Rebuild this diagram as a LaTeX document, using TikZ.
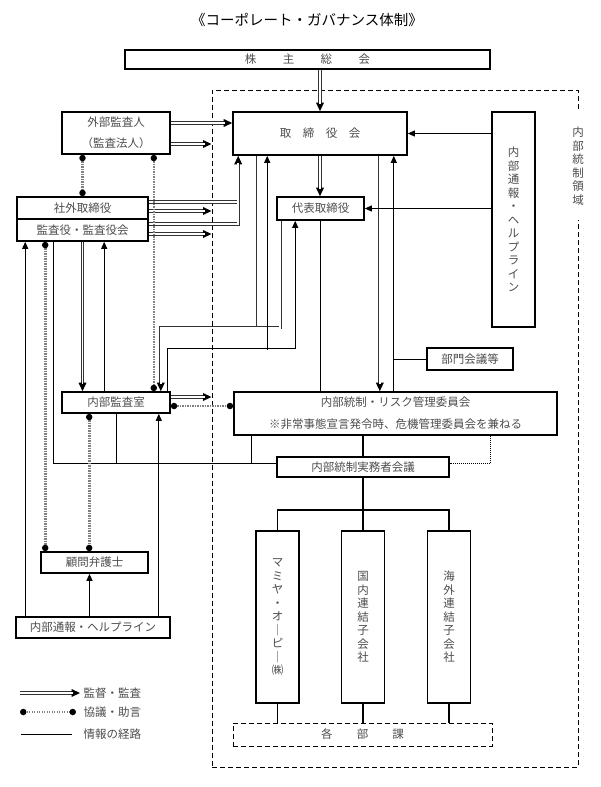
\documentclass[tikz,border=0pt]{standalone}
\usepackage{fontspec}
\setmainfont{Noto Sans CJK JP}
\usepackage{tikz}
\usetikzlibrary{arrows.meta,positioning,calc}

\begin{document}
\begin{tikzpicture}[
    x=1pt, y=-1pt,
    font=\fontsize{11.5}{13.5}\selectfont,
    box/.style={rectangle, draw, line width=1.6pt, inner sep=0pt, text=black!70, align=center},
    vbox/.style={box, text width=12pt, minimum width=43pt},
    region/.style={rectangle, draw, dash pattern=on 5pt off 3pt, line width=1pt, inner sep=0pt},
    kantokuline/.style={line width=0.8pt, draw=black!80, double=white, double distance=1.5pt},
    kantoku/.style={draw=white, line width=1.5pt, shorten >=7pt,
        preaction={draw=black!80, line width=3.1pt, shorten >=0pt, -{Triangle[length=8.5pt,width=8pt,line width=0pt,color=black]}}},
    joho/.style={line width=0.9pt},
    johoarrow/.style={joho, -{Triangle[length=7pt,width=6pt]}},
    soshiki/.style={line width=1.6pt},
    kyogi/.style={draw=black!50, line width=2.6pt, dash pattern=on 1.3pt off 1.2pt,
        {Circle[length=6.5pt,line width=0pt,color=black]}-{Circle[length=6.5pt,line width=0pt,color=black]}},
    kyogiline/.style={line width=1pt, dash pattern=on 1pt off 1pt}
  ]
    \useasboundingbox (0,0) rectangle (600,787);

    \node[font=\fontsize{14.5}{16}\selectfont] (title) at (307,20) {《コーポレート・ガバナンス体制》};

    \node[region, minimum width=366pt, minimum height=677pt] (ryoiki) at (395,428.5) {};
    \node[fill=white, inner sep=0pt, minimum width=14pt, minimum height=108pt, text width=12pt, align=center, text=black!70] (ryoikilabel) at (578,166) {内\\部\\統\\制\\領\\域};

    \node[box, minimum width=365pt, minimum height=19pt] (kabu) at (307.5,59.5) {株\hspace{2.3em}主\hspace{2.3em}総\hspace{2.3em}会};
    \node[box, minimum width=174pt, minimum height=43pt] (tori) at (320,133.5) {取\hspace{1em}締\hspace{1em}役\hspace{1em}会};
    \node[box, minimum width=87pt, minimum height=23pt] (daihyo) at (320.5,208.5) {代表取締役};
    \node[vbox, minimum height=215pt] (helpr) at (513.5,219.5) {内\\部\\通\\報\\・\\ヘ\\ル\\プ\\ラ\\イ\\ン};
    \node[box, minimum width=108pt, minimum height=42pt, font=\fontsize{11.5}{21}\selectfont] (gaibu) at (116,133) {外部監査人\\（監査法人）};
    \node[box, minimum width=131pt, minimum height=22pt] (shagai) at (82.5,208) {社外取締役};
    \node[box, minimum width=131pt, minimum height=22pt] (kansa) at (82.5,230) {監査役・監査役会};
    \node[box, minimum width=108pt, minimum height=21pt] (naibu) at (116,402.5) {内部監査室};
    \node[box, minimum width=86pt, minimum height=22pt] (bumon) at (470,359) {部門会議等};
    \node[box, minimum width=323pt, minimum height=43pt, font=\fontsize{11.5}{22}\selectfont] (iinkai) at (395.5,413.5) {内部統制・リスク管理委員会\\※非常事態宣言発令時、危機管理委員会を兼ねる};
    \node[box, minimum width=172pt, minimum height=20pt] (jitsumu) at (363,467) {内部統制実務者会議};
    \node[vbox, minimum height=172pt] (mamiya) at (277.5,617) {マ\\ミ\\ヤ\\・\\オ\\｜\\ピ\\｜\\㈱};
    \node[vbox, minimum height=172pt] (kokunai) at (363,617) {国\\内\\連\\結\\子\\会\\社};
    \node[vbox, minimum height=172pt] (kaigai) at (449,617) {海\\外\\連\\結\\子\\会\\社};
    \node[box, dash pattern=on 5pt off 3pt, line width=1pt, minimum width=259pt, minimum height=23pt] (kakubu) at (362.5,734.5) {各\hspace{2.1em}部\hspace{2.1em}課};
    \node[box, minimum width=107pt, minimum height=21pt] (bengo) at (94.5,562.5) {顧問弁護士};
    \node[box, minimum width=154pt, minimum height=21pt] (helpl) at (93,627.5) {内部通報・ヘルプライン};

    \draw[kantoku] (kabu.south -| tori.north) -- (tori.north);
    \draw[kantoku] ([yshift=10pt]gaibu.east) -- ([yshift=10pt]gaibu.east -| tori.west);
    \draw[kantoku] ([yshift=-11pt]gaibu.east) -- ([yshift=-11pt]gaibu.east -| ryoiki.west);
    \draw[kantokuline] ([yshift=6pt]shagai.east) -- ([xshift=6pt,yshift=6pt]shagai.east -| tori.west);
    \draw[kantoku] ([yshift=6pt]kansa.east) -| ([xshift=6pt]tori.south west);
    \draw[kantoku] ([yshift=-3pt]shagai.east) -- ([yshift=-3pt]shagai.east -| ryoiki.west);
    \draw[kantoku] ([yshift=-4pt]kansa.east) -- ([yshift=-4pt]kansa.east -| ryoiki.west);
    \draw[kantoku] (kansa.south -| shagai.north) -- (naibu.north -| shagai.north);
    \draw[kantokuline] ([xshift=23pt]tori.south west) -- ++(0,172);
    \draw[kantoku] ([xshift=4pt]daihyo.south west) -- ++(0,107) -| ([xshift=-10pt]naibu.north east);
    \draw[kantoku] (tori.south) -- (tori.south |- daihyo.north);
    \draw[kantoku] ([xshift=-28pt]tori.south east) -- ([xshift=-28pt]tori.south east |- iinkai.north);
    \draw[kantoku] ([yshift=5.5pt]naibu.east) -- ([yshift=5.5pt]naibu.east -| ryoiki.west);

    \draw[johoarrow] (helpr.west |- tori.east) -- (tori.east);
    \draw[johoarrow] (helpr.west |- daihyo.east) -- (daihyo.east);
    \draw[joho] (bumon.west) -- ([xshift=-14pt]bumon.west -| tori.south east);
    \draw[johoarrow] ([xshift=-14pt]tori.south east |- iinkai.north) -- ([xshift=-14pt]tori.south east);
    \draw[joho] (daihyo.south) -- (daihyo.south |- iinkai.north);
    \draw[johoarrow] ([xshift=-3pt]naibu.north east) -- ++(0,-43) -| ([xshift=19pt]daihyo.south west);
    \draw[johoarrow] ([xshift=35pt]tori.south west) ++(0,194) -- ([xshift=35pt]tori.south west);
    \draw[johoarrow] ([xshift=43pt]naibu.north west) -- ([xshift=43pt]naibu.north west |- kansa.south);
    \draw[johoarrow] ([xshift=10pt]helpl.north west) -- ([xshift=10pt]helpl.north west |- kansa.south);
    \draw[johoarrow] ([xshift=-5pt]bengo.south |- helpl.north) -- ([xshift=-5pt]bengo.south);
    \draw[johoarrow] ([xshift=-12pt]naibu.south east |- helpl.north) -- ([xshift=-12pt]naibu.south east);
    \coordinate (johoy) at ([yshift=4pt]jitsumu.west);
    \draw[joho] ([xshift=37pt]kansa.south west) |- (johoy);
    \draw[joho] (naibu.south) -- (naibu.south |- johoy);
    \draw[joho] ([xshift=18pt]iinkai.south west) -- ([xshift=18pt]iinkai.south west |- johoy);

    \draw[soshiki] (iinkai.south -| jitsumu.north) -- (jitsumu.north);
    \draw[soshiki] (jitsumu.south) -- ++(0,32) -| (mamiya.north);
    \draw[soshiki] (jitsumu.south) -- ++(0,32) -| (kaigai.north);
    \draw[soshiki] (jitsumu.south) -- (kokunai.north);
    \foreach \n in {mamiya,kokunai,kaigai}
        \draw[soshiki] (\n.south) -- (\n.south |- kakubu.north);

    \draw[kyogi] (gaibu.south -| shagai.north) -- (shagai.north);
    \draw[kyogi] ([xshift=-17pt]gaibu.south east) -- ([xshift=-17pt]naibu.north east);
    \draw[kyogi] ([xshift=5pt]bengo.north west |- kansa.south) -- ([xshift=5pt]bengo.north west);
    \draw[kyogi] ([xshift=28pt]naibu.south west) -- ([xshift=28pt]naibu.south west |- bengo.north);
    \draw[kyogi] ([yshift=-3.5pt]naibu.east) -- ([yshift=-3.5pt]naibu.east -| iinkai.west);
    \draw[kyogiline] ([xshift=-67pt]iinkai.south east) |- ([yshift=4pt]jitsumu.east);

    \node[anchor=west, text=black!70] (hanrei1) at (80,693) {監督・監査};
    \node[anchor=west, text=black!70] (hanrei2) at (80,712) {協議・助言};
    \node[anchor=west, text=black!70] (hanrei3) at (80,734) {情報の経路};
    \coordinate (h1) at (20,693);
    \coordinate (h2) at (20,712);
    \coordinate (h3) at (21,734);
    \draw[kantoku] (h1) -- (hanrei1.west);
    \draw[kyogi] (h2) -- ([xshift=-4pt]hanrei2.west);
    \draw[joho] (h3) -- ([xshift=-8pt]hanrei3.west);
  \end{tikzpicture}
\end{document}
